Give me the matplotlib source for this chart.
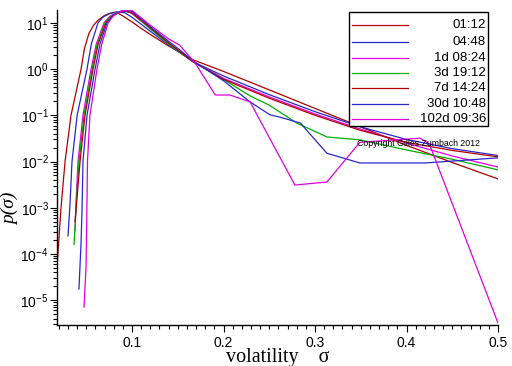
import matplotlib
matplotlib.use('Agg')
import matplotlib.pyplot as plt
from matplotlib.ticker import FixedLocator, MultipleLocator, LogLocator, NullFormatter
from matplotlib.lines import Line2D
from matplotlib.patches import Rectangle

plt.rcParams['font.family'] = ['Liberation Sans', 'DejaVu Sans']

labels = ["01:12", "04:48", "1d 08:24", "3d 19:12", "7d 14:24", "30d 10:48", "102d 09:36"]
colors = ["#b00000", "#2828c8", "#e000e0", "#00b000", "#b00000", "#2828c8", "#e000e0"]

x1 = [0.018, 0.0224, 0.0268, 0.0333, 0.0443, 0.048, 0.053, 0.058, 0.063, 0.07, 0.078, 0.084,
      0.09, 0.1, 0.11, 0.12, 0.14, 0.152, 0.167, 0.2, 0.25, 0.3, 0.35, 0.4, 0.45, 0.5]
y1 = [5.2e-5, 1e-3, 1e-2, 0.1, 1.0, 2.8, 6.0, 8.9, 11.5, 14.5, 16.6, 16.6,
      14.1, 10.5, 7.6, 5.6, 3.16, 2.34, 1.58, 0.89, 0.355, 0.141, 0.056, 0.0224, 0.0095, 0.0042]

x2 = [0.030, 0.032, 0.0344, 0.040, 0.0508, 0.0555, 0.0628, 0.068, 0.075, 0.083, 0.092, 0.1,
      0.12, 0.14, 0.167, 0.2, 0.25, 0.3, 0.35, 0.4, 0.45, 0.5]
y2 = [2.45e-4, 1e-3, 1e-2, 0.1, 1.0, 3.5, 10, 13.2, 15.8, 17.4, 16.6, 13.2,
      6.6, 3.3, 1.43, 0.71, 0.28, 0.12, 0.056, 0.030, 0.019, 0.0135]

x3 = [0.0377, 0.039, 0.041, 0.0464, 0.0552, 0.061, 0.0694, 0.075, 0.082, 0.089, 0.095, 0.1,
      0.12, 0.14, 0.167, 0.2, 0.25, 0.3, 0.35, 0.4, 0.45, 0.5]
y3 = [3.2e-4, 1.6e-3, 1e-2, 0.1, 1.0, 3.5, 10, 13.5, 16.6, 18.2, 17.8, 15.8,
      7.6, 3.55, 1.45, 0.63, 0.25, 0.107, 0.05, 0.025, 0.0132, 0.0076]

x4 = [0.0366, 0.0388, 0.042, 0.0475, 0.0563, 0.062, 0.0705, 0.076, 0.083, 0.09, 0.1, 0.12,
      0.14, 0.167, 0.2, 0.229, 0.25, 0.28, 0.313, 0.349, 0.4, 0.45, 0.5]
y4 = [1.6e-4, 1e-3, 1e-2, 0.1, 1.0, 3.5, 10, 13.5, 16.6, 18.2, 16.6, 7.4,
      3.47, 1.43, 0.60, 0.263, 0.166, 0.068, 0.034, 0.0295, 0.0178, 0.0112, 0.0066]

x5 = [0.0377, 0.0432, 0.0486, 0.0574, 0.063, 0.0716, 0.078, 0.085, 0.092, 0.1, 0.12, 0.14,
      0.167, 0.2, 0.25, 0.3, 0.35, 0.4, 0.45, 0.5]
y5 = [5e-4, 1e-2, 0.1, 1.0, 3.5, 10, 13.8, 16.6, 18.0, 16.6, 7.9, 3.7,
      1.43, 0.60, 0.234, 0.1, 0.047, 0.026, 0.0174, 0.0126]

x6 = [0.042, 0.0443, 0.0454, 0.0464, 0.0508, 0.0596, 0.065, 0.0727, 0.079, 0.086, 0.094, 0.1,
      0.12, 0.14, 0.152, 0.167, 0.2, 0.229, 0.251, 0.262, 0.284, 0.313, 0.349, 0.42, 0.5]
y6 = [1.74e-5, 1.74e-4, 1e-3, 1e-2, 0.1, 1.0, 3.5, 10, 14.1, 17.0, 18.6, 17.8,
      8.3, 4.0, 2.63, 1.48, 0.56, 0.195, 0.102, 0.091, 0.068, 0.0151, 0.0093, 0.0093, 0.012]

x7 = [0.0475, 0.0497, 0.0505, 0.0513, 0.054, 0.0617, 0.067, 0.0738, 0.08, 0.088, 0.096, 0.1,
      0.12, 0.14, 0.152, 0.169, 0.191, 0.207, 0.229, 0.278, 0.313, 0.349, 0.415, 0.425, 0.5]
y7 = [7.1e-6, 5e-5, 5e-4, 1e-2, 0.1, 1.0, 3.5, 10, 14.5, 17.8, 18.9, 18.6,
      8.9, 4.5, 3.3, 1.35, 0.275, 0.275, 0.195, 3.1e-3, 3.6e-3, 0.026, 0.032, 0.024, 3.2e-6]

xs_all = [x1, x2, x3, x4, x5, x6, x7]
ys_all = [y1, y2, y3, y4, y5, y6, y7]

x_ticks = [0.1, 0.2, 0.3, 0.4, 0.5]

W, H = 512, 366
fig = plt.figure(figsize=(W / 100, H / 100), dpi=100)
ax = fig.add_axes([57 / W, 1 - 325 / H, (498 - 57) / W, (325 - 10) / H])

for xs, ys, c in zip(xs_all, ys_all, colors):
    ax.plot(xs, ys, color=c, lw=0.9)

ax.set_yscale('log')
ax.set_xlim(0.018, 0.5)
ax.set_ylim(2.9e-6, 19.0)

for s in ('top', 'right'):
    ax.spines[s].set_visible(False)
for s in ('left', 'bottom'):
    ax.spines[s].set_linewidth(1.0)

ax.xaxis.set_major_locator(FixedLocator(x_ticks))
ax.xaxis.set_minor_locator(MultipleLocator(0.01))
ax.yaxis.set_major_locator(LogLocator(base=10, numticks=20))
ax.yaxis.set_minor_locator(LogLocator(base=10, subs=range(2, 10), numticks=20))
ax.yaxis.set_minor_formatter(NullFormatter())
ax.tick_params(axis='both', which='major', direction='out', length=5, width=0.8, labelsize=10, pad=3)
ax.tick_params(axis='both', which='minor', direction='out', length=3, width=0.8)
ax.tick_params(axis='y', which='major', pad=1)

ax.set_xlabel("volatility    σ", fontfamily='Liberation Serif', fontsize=14.5)
ax.xaxis.set_label_coords(0.501, -0.072)
ax.set_ylabel("p(σ)", fontfamily='Liberation Serif', fontsize=14, style='italic')
ax.yaxis.set_label_coords(-0.085, 0.368)

# legend box
fig.add_artist(Rectangle((349 / W, 1 - 126 / H), (488 - 349) / W, (126 - 12) / H,
                         transform=fig.transFigure, facecolor='white', edgecolor='black',
                         lw=1.0, zorder=5))
rows = [25, 42, 58, 73, 88, 104, 119]
for lab, c, py in zip(labels, colors, rows):
    fig.add_artist(Line2D([352 / W, 408 / W], [1 - py / H] * 2, transform=fig.transFigure,
                          color=c, lw=0.9, zorder=6))
    fig.text(486 / W, 1 - py / H, lab, ha='right', va='center', fontsize=9.5, zorder=6)

fig.text(357 / W, 1 - 143 / H, "Copyright Gilles Zumbach 2012", fontsize=6.3, va='center', zorder=6)

fig.savefig('out.png', dpi=100)
